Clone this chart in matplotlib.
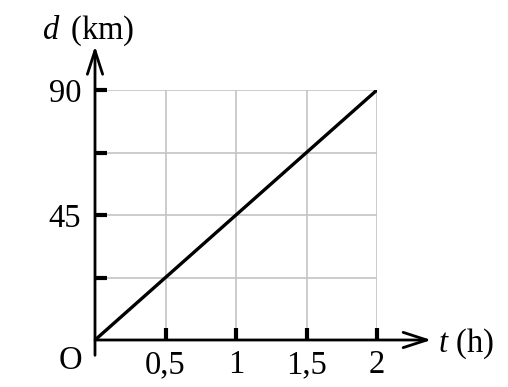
import matplotlib.pyplot as plt

plt.rcParams['font.family'] = ['Liberation Serif', 'DejaVu Serif']
plt.rcParams['mathtext.fontset'] = 'custom'
plt.rcParams['mathtext.it'] = 'Liberation Serif:italic'
plt.rcParams['mathtext.rm'] = 'Liberation Serif'

# data
t_vals = [0, 2]
d_vals = [0, 90]
x_ticks = [0.5, 1, 1.5, 2]
x_labels = ['0,5', '1', '1,5', '2']
y_ticks = [22.5, 45, 67.5, 90]
y_labels = ['', '45', '', '90']

W, H = 508, 387
fig = plt.figure(figsize=(W / 100, H / 100), dpi=100)
# pixel box of the data area
x0, x1 = 95, 377
y0, y1 = 340, 90
ax = fig.add_axes([x0 / W, 1 - y0 / H, (x1 - x0) / W, (y0 - y1) / H])
ax.set_xlim(0, 2)
ax.set_ylim(0, 90)
for s in ax.spines.values():
    s.set_visible(False)

# grid
for xv in x_ticks:
    ax.plot([xv, xv], [0, 90], color='#c4c4c4', lw=1.2, zorder=1)
for yv in y_ticks:
    ax.plot([0, 2], [yv, yv], color='#c4c4c4', lw=1.2, zorder=1)

# the line
ax.plot(t_vals, d_vals, color='black', lw=2.4, solid_capstyle='butt', zorder=3)

# axes with arrows
ax.annotate('', xy=(2.385, 0), xytext=(0, 0), xycoords='data',
            arrowprops=dict(arrowstyle='->,head_length=1.7,head_width=0.55',
                            lw=2, color='black', shrinkA=0, shrinkB=0),
            annotation_clip=False, zorder=4)
ax.annotate('', xy=(0, 105.8), xytext=(0, -5.5), xycoords='data',
            arrowprops=dict(arrowstyle='->,head_length=1.7,head_width=0.55',
                            lw=2, color='black', shrinkA=0, shrinkB=0),
            annotation_clip=False, zorder=4)

ax.set_xticks(x_ticks)
ax.set_xticklabels(x_labels)
ax.set_yticks(y_ticks)
ax.set_yticklabels(y_labels)
ax.tick_params(direction='in', length=8.5, width=3, labelsize=23.5, color='black')
ax.tick_params(axis='x', pad=7)
ax.tick_params(axis='y', pad=10)

ax.text(-0.172, -7.5, 'O', fontsize=23.5, ha='center', va='center')
ax.text(2.435, -1.5, r'$t$ (h)', fontsize=23.5, ha='left', va='center')
ax.text(-0.045, 111.5, r'$d\,$ (km)', fontsize=23.5, ha='center', va='center')

fig.savefig('out.png', dpi=100)
